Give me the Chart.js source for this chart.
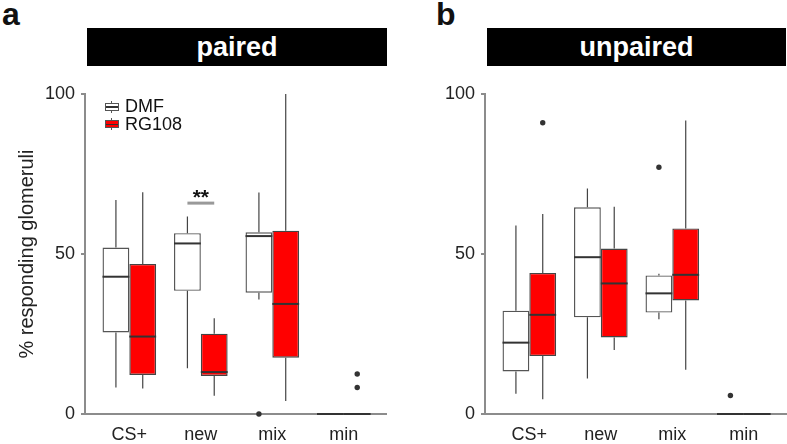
<!DOCTYPE html>
<html>
<head>
<meta charset="utf-8">
<script src="https://cdn.jsdelivr.net/npm/chart.js@4.4.1/dist/chart.umd.min.js"></script>
<style>
  body { margin: 0; width: 787px; height: 444px; background: #fff; position: relative; overflow: hidden;
         font-family: 'Liberation Sans', Arial, sans-serif; }
  .letter { position: absolute; top: -2px; font-weight: bold; font-size: 32px; line-height: 32px; color: #111; }
  .bar { position: absolute; top: 28px; height: 38px; background: #000; color: #fff; font-weight: bold;
         font-size: 27px; line-height: 38px; text-align: center; }
  .panel { position: absolute; top: 70px; width: 387px; height: 374px; }
  .legend { position: absolute; left: 105px; top: 98px; font-size: 18px; line-height: 17.5px; color: #111; }
  .legend div { display: flex; align-items: center; height: 17.5px; }
  .glyph { position: relative; display: inline-block; width: 14px; height: 12px; margin-right: 6px; }
  .glyph::before { content: ''; position: absolute; left: 6px; top: 0; width: 1px; height: 12px; background: #555; }
  .glyph i { position: absolute; left: 0; top: 2px; width: 12px; height: 6px; border: 1px solid #555; }
  .glyph i::after { content: ''; position: absolute; left: 0; right: 0; top: 2.5px; height: 1.3px; background: #333; }
</style>
</head>
<body>
<div class="letter" style="left:2px">a</div>
<div class="letter" style="left:436px">b</div>
<div class="bar" style="left:87px;width:300px">paired</div>
<div class="bar" style="left:487px;width:299px">unpaired</div>
<div class="panel" style="left:0"><canvas id="paired"></canvas></div>
<div class="panel" style="left:400px"><canvas id="unpaired"></canvas></div>
<div class="legend">
  <div><span class="glyph"><i style="background:#fff"></i></span>DMF</div>
  <div><span class="glyph"><i style="background:#ff0000"></i></span>RG108</div>
</div>
<script>
const categories = ['CS+', 'new', 'mix', 'min'];
const yTicks = [0, 50, 100];

// paired, DMF
const pairedDmfLow = [8.3, 14.3, 35.8, 0];
const pairedDmfQ1 = [25.5, 38.5, 37.9, 0];
const pairedDmfMedian = [42.9, 53.3, 55.6, 0];
const pairedDmfQ3 = [52.0, 56.5, 56.8, 0];
const pairedDmfHigh = [66.9, 61.7, 69.2, 0];
const pairedDmfOutliers = [[], [], [0], []];
// paired, RG108
const pairedRgLow = [8.0, 5.7, 4.1, 0];
const pairedRgQ1 = [12.2, 11.9, 17.6, 0];
const pairedRgMedian = [24.2, 13.1, 34.4, 0];
const pairedRgQ3 = [46.9, 25.1, 57.3, 0];
const pairedRgHigh = [69.3, 29.9, 100, 0];
const pairedRgOutliers = [[], [], [], [12.5, 8.3]];
// significance mark (category index, value, text)
const pairedSignif = [{ index: 1, value: 65.9, text: '**' }];

// unpaired, DMF
const unpairedDmfLow = [6.3, 11.1, 29.6, 0];
const unpairedDmfQ1 = [13.3, 30.2, 31.7, 0];
const unpairedDmfMedian = [22.3, 49.0, 37.7, 0];
const unpairedDmfQ3 = [32.3, 64.6, 43.3, 0];
const unpairedDmfHigh = [58.9, 70.5, 43.8, 0];
const unpairedDmfOutliers = [[], [], [77.1], [5.8]];
// unpaired, RG108
const unpairedRgLow = [4.6, 20.0, 13.8, 0];
const unpairedRgQ1 = [18.1, 23.9, 35.5, 0];
const unpairedRgMedian = [31.0, 40.8, 43.5, 0];
const unpairedRgQ3 = [44.1, 51.7, 58.0, 0];
const unpairedRgHigh = [62.5, 64.8, 91.7, 0];
const unpairedRgOutliers = [[91.0], [], [], []];

Chart.defaults.font.family = "'Liberation Sans', Arial, sans-serif";
Chart.defaults.color = '#222';

function boxPlugin(groups, marks) {
    return {
        id: 'boxExtras',
        afterDatasetsDraw(chart) {
            const ctx = chart.ctx;
            const y = chart.scales.y;
            ctx.save();
            groups.forEach((g, i) => {
                chart.getDatasetMeta(i).data.forEach((bar, j) => {
                    const x = bar.x;
                    const half = bar.width / 2;
                    // whiskers
                    ctx.strokeStyle = '#444';
                    ctx.lineWidth = 1.2;
                    ctx.beginPath();
                    ctx.moveTo(x, y.getPixelForValue(g.q3[j]));
                    ctx.lineTo(x, y.getPixelForValue(g.high[j]));
                    ctx.moveTo(x, y.getPixelForValue(g.q1[j]));
                    ctx.lineTo(x, y.getPixelForValue(g.low[j]));
                    ctx.stroke();
                    // median
                    const ym = y.getPixelForValue(g.median[j]);
                    ctx.strokeStyle = '#333';
                    ctx.lineWidth = 2;
                    ctx.beginPath();
                    ctx.moveTo(x - half, ym);
                    ctx.lineTo(x + half, ym);
                    ctx.stroke();
                    // outliers
                    ctx.fillStyle = '#333';
                    g.outliers[j].forEach(v => {
                        ctx.beginPath();
                        ctx.arc(x, y.getPixelForValue(v), 2.7, 0, Math.PI * 2);
                        ctx.fill();
                    });
                });
            });
            marks.forEach(m => {
                const a = chart.getDatasetMeta(0).data[m.index];
                const b = chart.getDatasetMeta(1).data[m.index];
                const py = y.getPixelForValue(m.value);
                ctx.strokeStyle = '#999';
                ctx.lineWidth = 3;
                ctx.beginPath();
                ctx.moveTo(a.x, py);
                ctx.lineTo(b.x, py);
                ctx.stroke();
                ctx.fillStyle = '#111';
                ctx.font = "bold 21px 'Liberation Sans', Arial, sans-serif";
                ctx.textAlign = 'center';
                ctx.textBaseline = 'alphabetic';
                ctx.fillText(m.text, (a.x + b.x) / 2, py + 1);
            });
            ctx.restore();
        }
    };
}

function makeChart(id, dmf, rg, marks, showTitle) {
    const toData = g => categories.map((c, i) => ({ x: i, y: [g.q1[i], g.q3[i]] }));
    return new Chart(document.getElementById(id), {
        type: 'bar',
        data: {
            datasets: [{
                label: 'DMF',
                data: toData(dmf),
                backgroundColor: '#ffffff',
                borderColor: '#555',
                borderWidth: 1.4,
                borderSkipped: false,
                categoryPercentage: 0.75,
                barPercentage: 1
            }, {
                label: 'RG108',
                data: toData(rg),
                backgroundColor: '#ff0000',
                borderColor: '#444',
                borderWidth: 1.4,
                borderSkipped: false,
                categoryPercentage: 0.75,
                barPercentage: 1
            }]
        },
        options: {
            responsive: true,
            maintainAspectRatio: false,
            animation: false,
            layout: { padding: { top: 24, right: 1, left: 0, bottom: 0 } },
            plugins: { legend: { display: false }, tooltip: { enabled: false } },
            scales: {
                x: {
                    type: 'linear',
                    min: -0.62,
                    max: 3.59,
                    offset: false,
                    afterBuildTicks: s => { s.ticks = categories.map((c, i) => ({ value: i })); },
                    afterFit: s => { s.height = 30; },
                    ticks: {
                        callback: v => categories[v],
                        font: { size: 18 },
                        color: '#222',
                        padding: 10,
                        maxRotation: 0,
                        autoSkip: false
                    },
                    grid: { display: false, drawTicks: false },
                    border: { display: true, color: '#8c8c8c', width: 2 }
                },
                y: {
                    min: 0,
                    max: 100,
                    afterBuildTicks: s => { s.ticks = yTicks.map(v => ({ value: v })); },
                    afterFit: s => { s.width = 85; },
                    ticks: { font: { size: 18 }, color: '#222', padding: 6 },
                    grid: { display: true, drawOnChartArea: false, drawTicks: true, tickLength: 4, color: '#8c8c8c', lineWidth: 2 },
                    border: { display: true, color: '#8c8c8c', width: 2 },
                    title: {
                        display: showTitle,
                        text: '% responding glomeruli',
                        font: { size: 20 },
                        color: '#222',
                        padding: { top: 15, bottom: 0 }
                    }
                }
            }
        },
        plugins: [boxPlugin([dmf, rg], marks)]
    });
}

makeChart('paired',
    { low: pairedDmfLow, q1: pairedDmfQ1, median: pairedDmfMedian, q3: pairedDmfQ3, high: pairedDmfHigh, outliers: pairedDmfOutliers },
    { low: pairedRgLow, q1: pairedRgQ1, median: pairedRgMedian, q3: pairedRgQ3, high: pairedRgHigh, outliers: pairedRgOutliers },
    pairedSignif, true);

makeChart('unpaired',
    { low: unpairedDmfLow, q1: unpairedDmfQ1, median: unpairedDmfMedian, q3: unpairedDmfQ3, high: unpairedDmfHigh, outliers: unpairedDmfOutliers },
    { low: unpairedRgLow, q1: unpairedRgQ1, median: unpairedRgMedian, q3: unpairedRgQ3, high: unpairedRgHigh, outliers: unpairedRgOutliers },
    [], false);
</script>
</body>
</html>
